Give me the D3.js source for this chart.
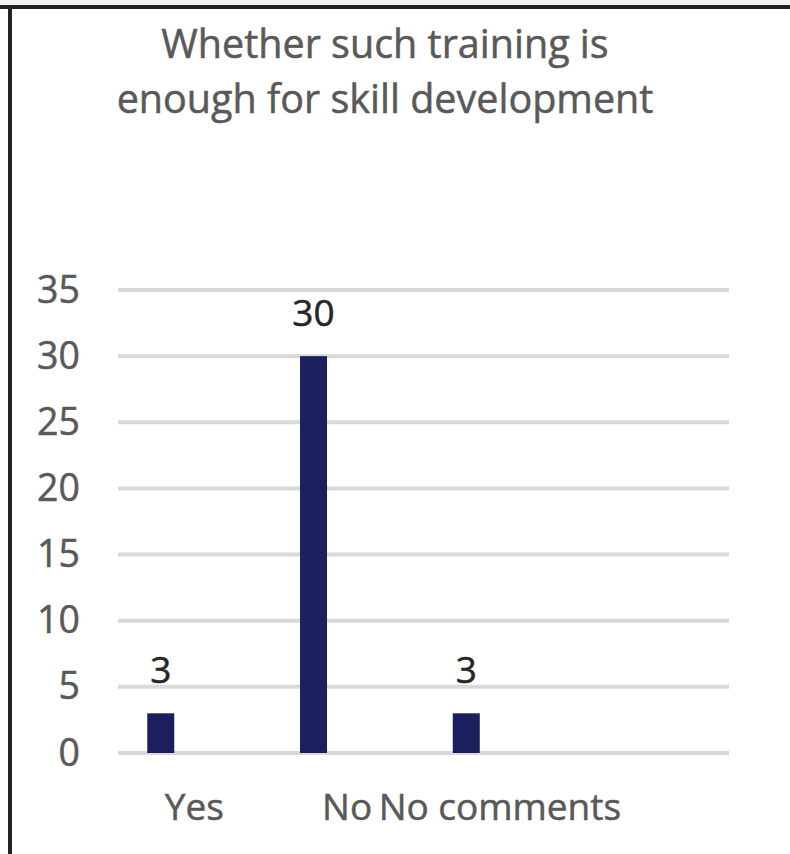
<!DOCTYPE html>
<html>
<head>
<meta charset="utf-8">
<script src="https://cdn.jsdelivr.net/npm/d3@7"></script>
<style>
  html, body { margin: 0; padding: 0; background: #fff; }
  svg { display: block; font-family: "Open Sans", "Noto Sans", sans-serif; }
</style>
</head>
<body>
<script>
// Survey answers: is the training enough for skill development?
const categories = ["Yes", "No", "No comments", ""];
const counts = [3, 30, 3, null];
const yTicks = [0, 5, 10, 15, 20, 25, 30, 35];
const titleLines = ["Whether such training is", "enough for skill development"];

const W = 790, H = 854;
const svg = d3.select("body").append("svg").attr("width", W).attr("height", H);

// frame edges (top and left)
svg.append("rect").attr("x", 0).attr("y", 0).attr("width", W).attr("height", 5).attr("fill", "#f2f2f2");
svg.append("rect").attr("x", 0).attr("y", 5).attr("width", W).attr("height", 4).attr("fill", "#222");
svg.append("rect").attr("x", 8).attr("y", 5).attr("width", 4).attr("height", H).attr("fill", "#222");

const textStyle = sel => sel.attr("fill", "#595959").attr("stroke", "#595959")
  .attr("stroke-width", 0.5).attr("font-family", "'Open Sans', sans-serif");

// title
svg.append("g").selectAll("text").data(titleLines).join("text")
  .attr("x", 385).attr("y", (d, i) => 58 + i * 55)
  .attr("text-anchor", "middle")
  .attr("font-size", 39.5)
  .call(textStyle)
  .text(d => d);

const plot = { left: 118, right: 729, top: 290, bottom: 753 };

const x = d3.scaleBand().domain(categories).range([plot.left, plot.right]);
const y = d3.scaleLinear().domain([0, 35]).range([plot.bottom, plot.top]);

// gridlines
svg.append("g").selectAll("line").data(yTicks).join("line")
  .attr("x1", plot.left).attr("x2", plot.right)
  .attr("y1", d => y(d)).attr("y2", d => y(d))
  .attr("stroke", "#d9d9d9").attr("stroke-width", 4);

// y axis labels
const yAxis = svg.append("g").attr("transform", `translate(${plot.left},0)`)
  .call(d3.axisLeft(y).tickValues(yTicks).tickSize(0).tickPadding(38));
yAxis.select(".domain").remove();
yAxis.selectAll("text").attr("font-size", 37.5).call(textStyle);

// x axis labels at category centres
const xAxis = svg.append("g").attr("transform", `translate(0,${plot.bottom})`)
  .call(d3.axisBottom(x).tickSize(0).tickPadding(0));
xAxis.select(".domain").remove();
xAxis.selectAll("text").attr("font-size", 37).call(textStyle)
  .attr("dy", null).attr("y", 67);

// bars sit in the first slot of each category band
const barW = 27;
const barCenter = c => x(c) + x.bandwidth() * 0.28;
const data = categories.map((c, i) => ({ c, v: counts[i] })).filter(d => d.v != null);

svg.append("g").selectAll("rect").data(data).join("rect")
  .attr("x", d => barCenter(d.c) - barW / 2)
  .attr("y", d => y(d.v))
  .attr("width", barW)
  .attr("height", d => y(0) - y(d.v))
  .attr("fill", "#1b1f5e");

// value labels
svg.append("g").selectAll("text").data(data).join("text")
  .attr("x", d => barCenter(d.c))
  .attr("y", d => y(d.v) - 30)
  .attr("text-anchor", "middle")
  .attr("font-size", 37).attr("fill", "#262626").attr("stroke", "#262626").attr("stroke-width", 0.5)
  .text(d => d.v);
</script>
</body>
</html>
